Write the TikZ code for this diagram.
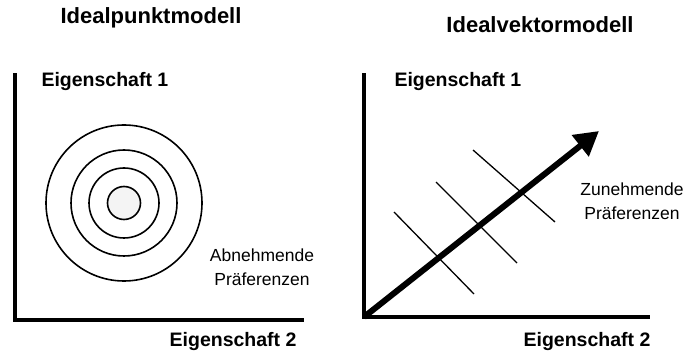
\documentclass[tikz,border=0pt]{standalone}
\usepackage{fontspec}
\setmainfont{Liberation Sans}
\usepackage{xcolor}
\usepackage{tikz}
\usetikzlibrary{positioning,arrows.meta,calc}

\begin{document}
\begin{tikzpicture}[x=1pt, y=1pt, >=Stealth,
    axisline/.style={line width=4pt, line cap=rect},
    ring/.style={line width=1.6pt},
    isoline/.style={line width=1.3pt},
    modeltitle/.style={font=\fontsize{22}{26}\selectfont\bfseries},
    axisname/.style={font=\fontsize{19.5}{23}\selectfont\bfseries},
    prefnote/.style={font=\fontsize{17.5}{24}\selectfont, align=center}]

\useasboundingbox (0, 0) rectangle (688, 356);

% Idealpunktmodell
\node[modeltitle] (t1) at (151, 338) {Idealpunktmodell};

% Axes
\coordinate (o1) at (15, 36);
\coordinate (y1) at (15, 281);
\coordinate (x1) at (302, 36);
\draw[axisline] (y1) -- (o1) -- (x1);
\node[axisname, anchor=west] (e11) at (38, 274) {Eigenschaft 1};
\node[axisname, anchor=east] (e12) at (300, 14) {Eigenschaft 2};

% Ideal point with rings
\coordinate (c1) at (124, 153);
\fill[gray!9] (c1) circle (16.5);
\foreach \r in {16.5, 35, 53, 78} {
    \draw[ring] (c1) circle (\r);
}
\node[prefnote] (p1) at (262, 89) {Abnehmende\\Präferenzen};

% Idealvektormodell
\node[modeltitle] (t2) at (540, 331) {Idealvektormodell};

% Axes
\coordinate (o2) at (364, 39);
\coordinate (y2) at (364, 281);
\coordinate (x2) at (648, 39);
\draw[axisline] (y2) -- (o2) -- (x2);
\node[axisname, anchor=west] (e21) at (391, 274) {Eigenschaft 1};
\node[axisname] (e22) at (587, 14) {Eigenschaft 2};

% Iso-preference lines
\draw[isoline] (394, 144) -- (474, 62);
\draw[isoline] (436, 174) -- (517, 93);
\draw[isoline] (473, 206) -- (555, 134);

% Ideal vector
\coordinate (v2) at (599, 225);
\draw[line width=6pt, -{Triangle[length=24pt, width=26pt]}] (o2) -- (v2);
\node[prefnote] (p2) at (632, 155) {Zunehmende\\Präferenzen};

\end{tikzpicture}
\end{document}
